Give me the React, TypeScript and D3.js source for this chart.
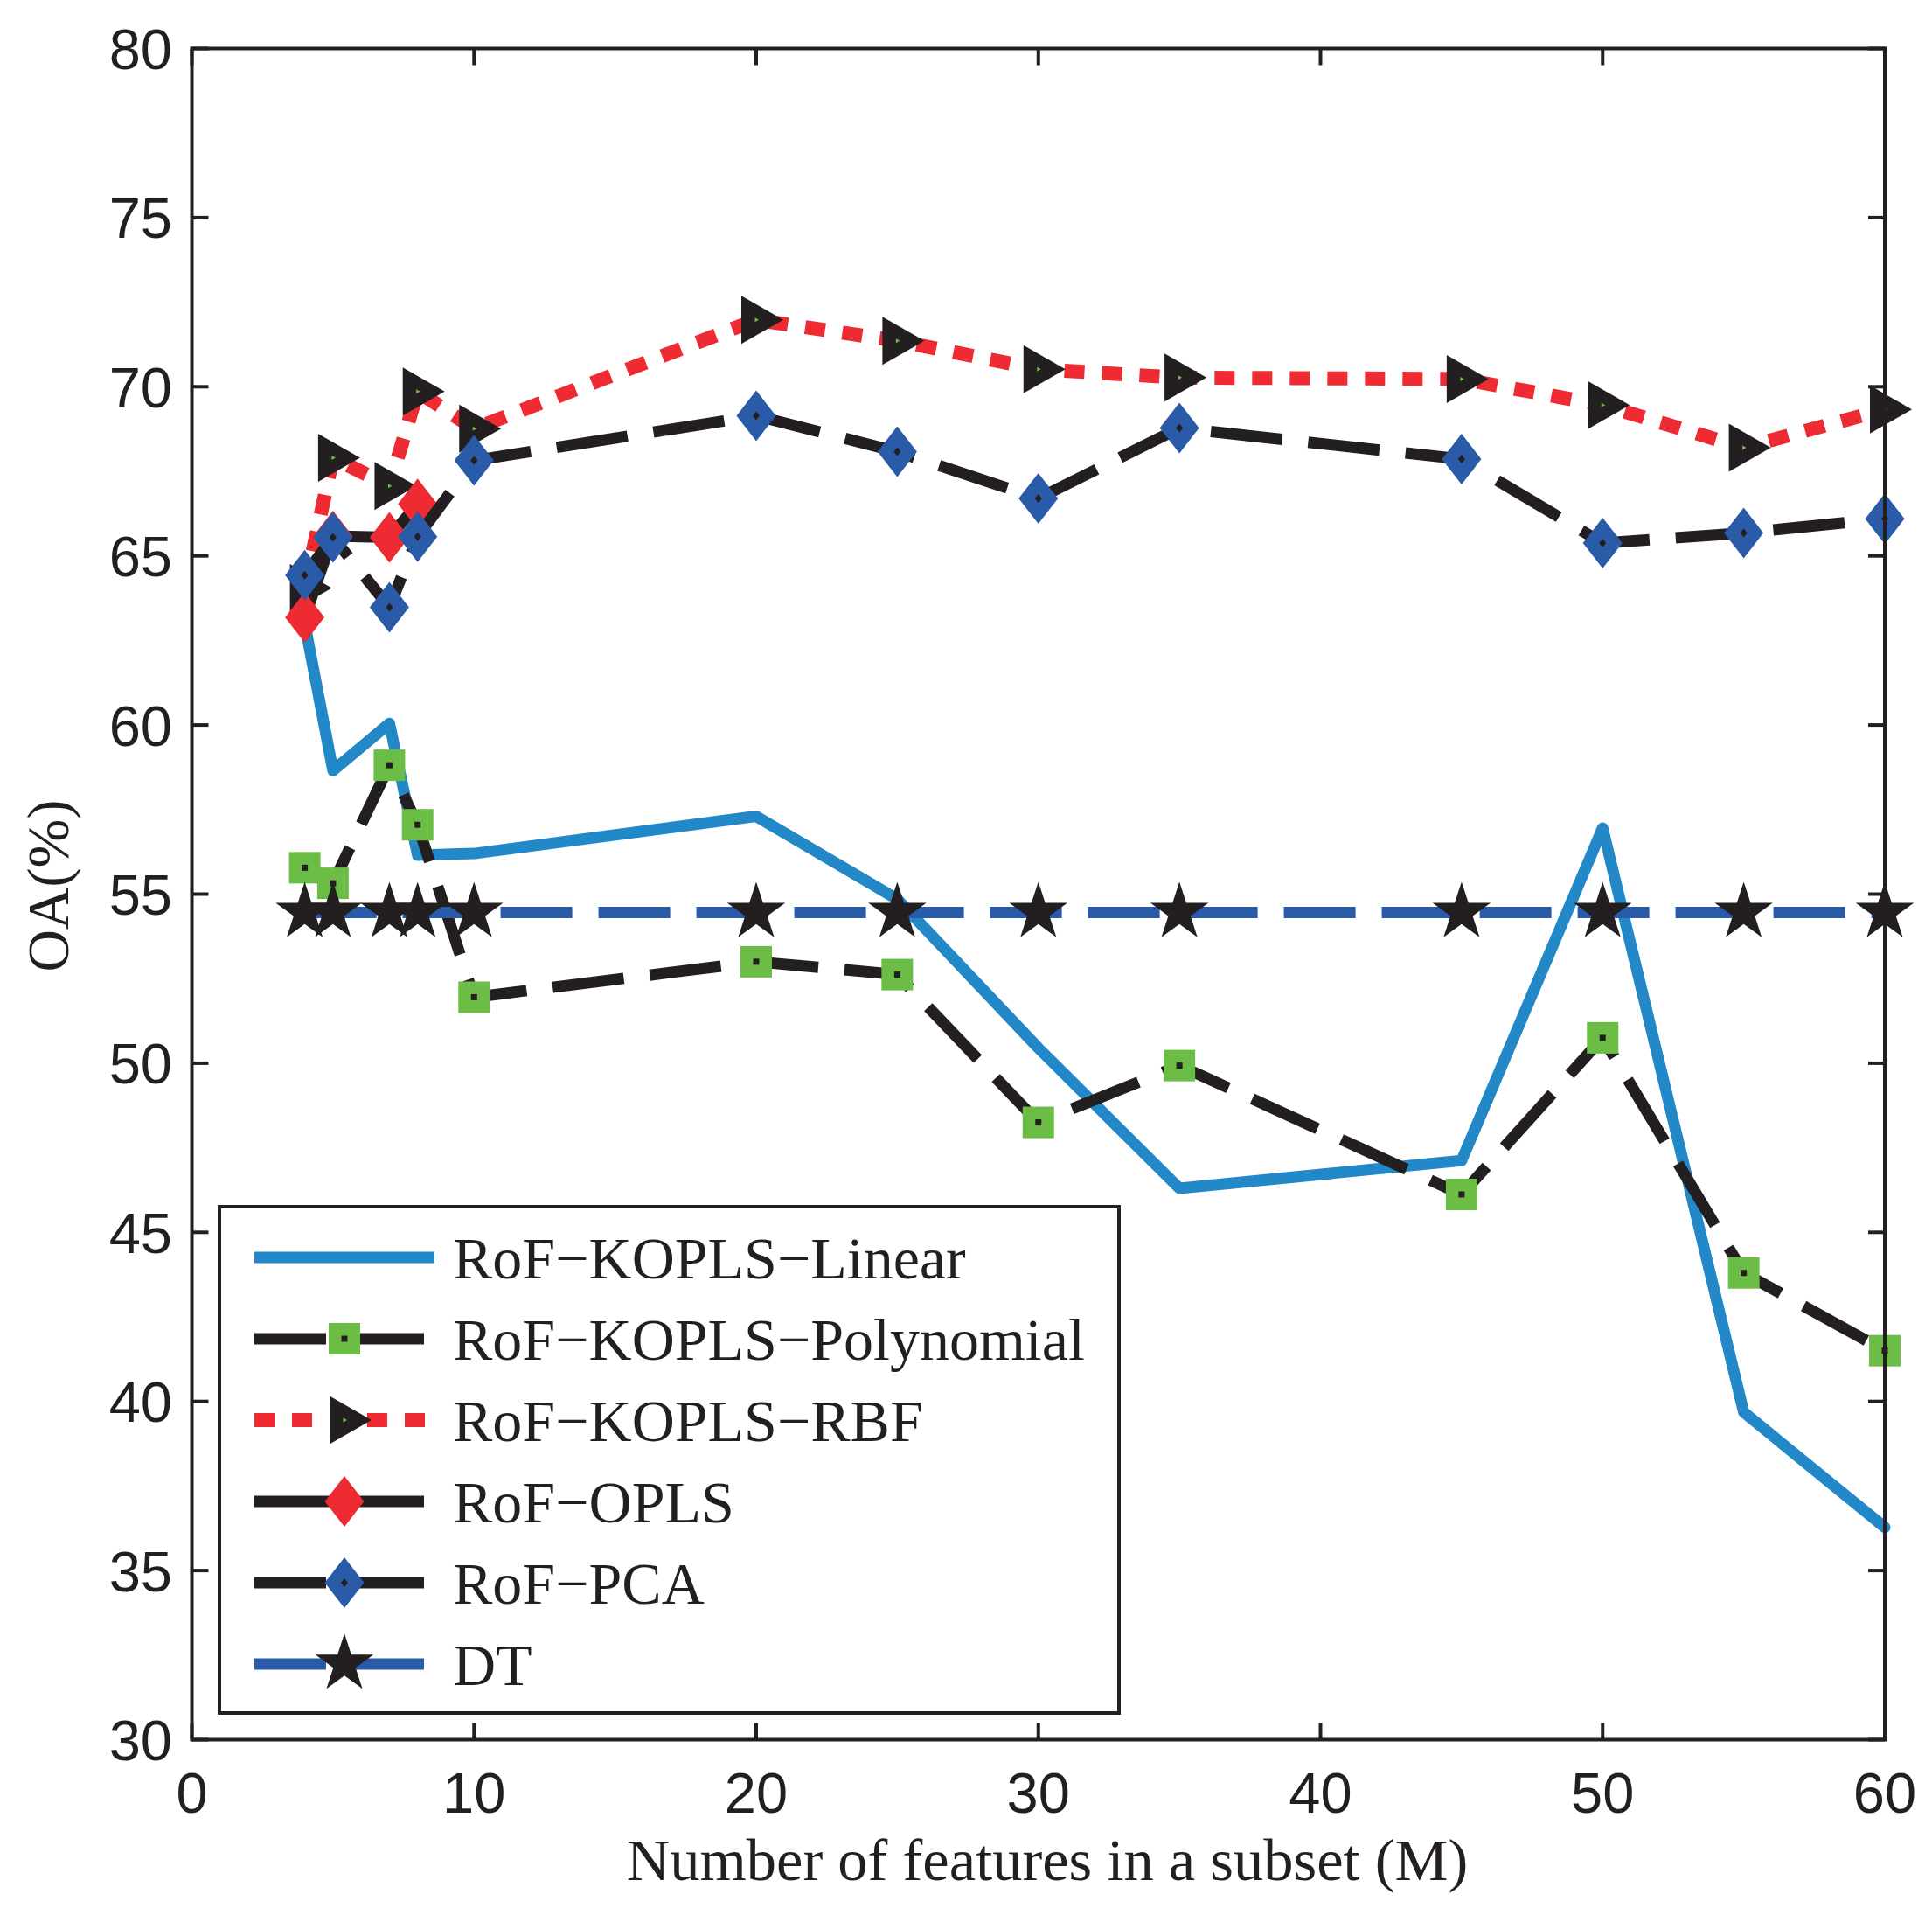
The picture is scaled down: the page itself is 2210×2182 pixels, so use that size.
import React from 'react';
import * as d3 from 'd3';

const W = 2210;
const H = 2182;

// ---- data ----
const featureCounts = [4, 5, 7, 8, 10, 20, 25, 30, 35, 45, 50, 55, 60];
const kLinear = [63.0, 58.65, 60.05, 56.15, 56.2, 57.3, 54.85, 50.45, 46.3, 47.12, 56.95, 39.68, 36.28];
const kPolynomial = [55.78, 55.32, 58.81, 57.05, 51.95, 53.0, 52.62, 48.25, 49.93, 46.12, 50.75, 43.8, 41.5];
const kRBF = [64.05, 67.9, 67.07, 69.86, 68.76, 71.98, 71.36, 70.52, 70.27, 70.23, 69.46, 68.2, 69.33];
const oplsCounts = [4, 5, 7, 8];
const opls = [63.18, 65.59, 65.55, 66.54];
const pca = [64.43, 65.55, 63.48, 65.57, 67.82, 69.14, 68.08, 66.7, 68.78, 67.86, 65.38, 65.68, 66.1];
const dt = [54.46, 54.46, 54.46, 54.46, 54.46, 54.46, 54.46, 54.46, 54.46, 54.46, 54.46, 54.46, 54.46];

const xTicks = [0, 10, 20, 30, 40, 50, 60];
const yTicks = [30, 35, 40, 45, 50, 55, 60, 65, 70, 75, 80];

const labels = [
  'RoF\u2212KOPLS\u2212Linear',
  'RoF\u2212KOPLS\u2212Polynomial',
  'RoF\u2212KOPLS\u2212RBF',
  'RoF\u2212OPLS',
  'RoF\u2212PCA',
  'DT',
];

// ---- styling ----
const INK = '#231f20';
const LIGHTBLUE = '#2288c8';
const DARKBLUE = '#2a5ba8';
const RED = '#ee2a33';
const GREEN = '#6cbd45';
const SANS = '"Liberation Sans", Arial, Helvetica, sans-serif';
const SERIF = '"Liberation Serif", "Times New Roman", Times, serif';

const PLOT = { left: 219.5, right: 2156, top: 55.5, bottom: 1989.5 };

const x = d3.scaleLinear().domain([0, 60]).range([PLOT.left, PLOT.right]);
const y = d3.scaleLinear().domain([30, 80]).range([PLOT.bottom, PLOT.top]);

type MarkerKind = 'none' | 'square' | 'triangle' | 'diamondRed' | 'diamondBlue' | 'star';

function starPath(R: number) {
  const r = R * 0.382;
  const pts: string[] = [];
  for (let i = 0; i < 10; i++) {
    const rad = i % 2 === 0 ? R : r;
    const a = -Math.PI / 2 + (i * Math.PI) / 5;
    pts.push(`${(rad * Math.cos(a)).toFixed(2)},${(rad * Math.sin(a)).toFixed(2)}`);
  }
  return 'M' + pts.join('L') + 'Z';
}

function Marker({ kind, cx, cy }: { kind: MarkerKind; cx: number; cy: number }) {
  const t = `translate(${cx},${cy})`;
  switch (kind) {
    case 'square':
      return (
        <g transform={t}>
          <rect x={-18} y={-18} width={36} height={36} fill={GREEN} />
          <rect x={-3.5} y={-3.5} width={7} height={7} fill={INK} />
        </g>
      );
    case 'triangle':
      return (
        <g transform={t}>
          <path d="M-17,-27.5L-17,27.5L31,0Z" fill={INK} />
          <path d="M-1.5,-2.5L-1.5,2.5L3,0Z" fill={GREEN} />
        </g>
      );
    case 'diamondRed':
      return (
        <g transform={t}>
          <path d="M0,-29L22.5,0L0,29L-22.5,0Z" fill={RED} />
        </g>
      );
    case 'diamondBlue':
      return (
        <g transform={t}>
          <path d="M0,-29L22.5,0L0,29L-22.5,0Z" fill={DARKBLUE} />
          <path d="M0,-5L4,0L0,5L-4,0Z" fill={INK} />
        </g>
      );
    case 'star':
      return (
        <g transform={t}>
          <path d={starPath(35)} fill={INK} />
        </g>
      );
    default:
      return null;
  }
}

interface Series {
  xs: number[];
  ys: number[];
  color: string;
  width: number;
  dash?: string;
  marker: MarkerKind;
  legendLineEnd: number;
}

const series: Series[] = [
  { xs: featureCounts, ys: kLinear, color: LIGHTBLUE, width: 13, marker: 'none', legendLineEnd: 497 },
  { xs: featureCounts, ys: kPolynomial, color: INK, width: 13, dash: '82 30', marker: 'square', legendLineEnd: 497 },
  { xs: featureCounts, ys: kRBF, color: RED, width: 16, dash: '23 20', marker: 'triangle', legendLineEnd: 497 },
  { xs: oplsCounts, ys: opls, color: INK, width: 13, marker: 'diamondRed', legendLineEnd: 485 },
  { xs: featureCounts, ys: pca, color: INK, width: 13, dash: '82 30', marker: 'diamondBlue', legendLineEnd: 497 },
  { xs: featureCounts, ys: dt, color: DARKBLUE, width: 13, dash: '82 30', marker: 'star', legendLineEnd: 497 },
];

const line = d3
  .line<[number, number]>()
  .x((d) => x(d[0]))
  .y((d) => y(d[1]));

export default function App() {
  const legend = { x: 251, y: 1380, w: 1029, h: 579 };
  const rowY = (i: number) => 1438 + i * 93;
  const tickLen = 19;

  return (
    <svg
      width={W}
      height={H}
      viewBox={`0 0 ${W} ${H}`}
      style={{ position: 'absolute', left: 0, top: 0, background: '#fff' }}
    >
      <rect x={0} y={0} width={W} height={H} fill="#fff" />

      {/* series */}
      {series.map((s, i) => {
        const pts = s.xs.map((v, k) => [v, s.ys[k]] as [number, number]);
        return (
          <g key={i}>
            <path
              d={line(pts) || ''}
              fill="none"
              stroke={s.color}
              strokeWidth={s.width}
              strokeDasharray={s.dash}
              strokeLinejoin="round"
              strokeLinecap={s.dash ? 'butt' : 'round'}
            />
            {pts.map((p, k) => (
              <Marker key={k} kind={s.marker} cx={x(p[0])} cy={y(p[1])} />
            ))}
          </g>
        );
      })}

      {/* axes box */}
      <rect
        x={PLOT.left}
        y={PLOT.top}
        width={PLOT.right - PLOT.left}
        height={PLOT.bottom - PLOT.top}
        fill="none"
        stroke={INK}
        strokeWidth={4}
      />
      {xTicks.map((t) => (
        <g key={'x' + t}>
          <line x1={x(t)} x2={x(t)} y1={PLOT.bottom} y2={PLOT.bottom - tickLen} stroke={INK} strokeWidth={4} />
          <line x1={x(t)} x2={x(t)} y1={PLOT.top} y2={PLOT.top + tickLen} stroke={INK} strokeWidth={4} />
          <text
            x={x(t)}
            y={2073}
            textAnchor="middle"
            fontFamily={SANS}
            fontSize={65}
            fill={INK}
          >
            {t}
          </text>
        </g>
      ))}
      {yTicks.map((t) => (
        <g key={'y' + t}>
          <line x1={PLOT.left} x2={PLOT.left + tickLen} y1={y(t)} y2={y(t)} stroke={INK} strokeWidth={4} />
          <line x1={PLOT.right} x2={PLOT.right - tickLen} y1={y(t)} y2={y(t)} stroke={INK} strokeWidth={4} />
          <text
            x={197}
            y={y(t) + 23.5}
            textAnchor="end"
            fontFamily={SANS}
            fontSize={65}
            fill={INK}
          >
            {t}
          </text>
        </g>
      ))}

      {/* axis labels */}
      <text x={1198} y={2150} textAnchor="middle" fontFamily={SERIF} fontSize={68.5} fill={INK}>
        Number of features in a subset (M)
      </text>
      <text
        transform={`translate(78,1013) rotate(-90)`}
        textAnchor="middle"
        fontFamily={SERIF}
        fontSize={67}
        fill={INK}
      >
        OA(%)
      </text>

      {/* legend */}
      <rect x={legend.x} y={legend.y} width={legend.w} height={legend.h} fill="#fff" stroke={INK} strokeWidth={4} />
      {series.map((s, i) => (
        <g key={'lg' + i}>
          <line
            x1={291}
            x2={s.legendLineEnd}
            y1={rowY(i)}
            y2={rowY(i)}
            stroke={s.color}
            strokeWidth={s.width}
            strokeDasharray={s.dash}
            strokeLinecap="butt"
          />
          <Marker kind={s.marker} cx={394} cy={rowY(i)} />
          <text x={518} y={rowY(i) + 24} fontFamily={SERIF} fontSize={68} fill={INK}>
            {labels[i]}
          </text>
        </g>
      ))}
    </svg>
  );
}
